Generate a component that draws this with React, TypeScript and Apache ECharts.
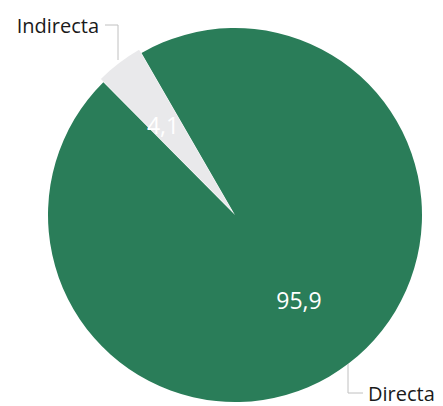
import React, { useEffect, useRef } from "react";
import * as echarts from "echarts";

const categories = ["Directa", "Indirecta"];
const values = [95.9, 4.1];
const colors = ["#2a7d59", "#e9e9eb"];

const fmt = (v: number) => v.toFixed(1).replace(".", ",");

export default function App() {
  const ref = useRef<HTMLDivElement>(null);
  useEffect(() => {
    document.body.style.margin = "0";
    const chart = echarts.init(ref.current!, undefined, { renderer: "svg" });
    const base = {
      type: "pie",
      center: [235, 215],
      radius: 187,
      startAngle: 120,
      silent: true,
    };
    const ghost = categories.map((c, i) => ({ name: c, value: values[i] }));
    chart.setOption({
      animation: false,
      series: [
        {
          ...base,
          selectedMode: "single",
          selectedOffset: 4,
          z: 1,
          data: categories.map((c, i) => ({
            name: c,
            value: values[i],
            selected: i === 1,
            itemStyle: { color: colors[i] },
          })),
          label: { show: false },
          labelLine: { show: false },
        },
        {
          ...base,
          z: 2,
          data: ghost,
          itemStyle: { color: "rgba(0,0,0,0)" },
          label: {
            show: true,
            position: "inside",
            color: "#ffffff",
            fontFamily: "Open Sans",
            fontSize: 23,
            formatter: (p: any) => fmt(p.value),
          },
          labelLayout: (p: any) =>
            p.dataIndex === 0
              ? { x: 299, y: 300, align: "center", verticalAlign: "middle" }
              : { x: 163, y: 125, align: "center", verticalAlign: "middle" },
          labelLine: { show: false },
        },
        {
          ...base,
          z: 2,
          data: ghost,
          itemStyle: { color: "rgba(0,0,0,0)" },
          label: {
            show: true,
            position: "outside",
            overflow: "none",
            color: "#1a1a1a",
            fontFamily: "Open Sans",
            fontSize: 20,
            formatter: "{b}",
          },
          labelLine: { show: true, lineStyle: { color: "#c0c0c0", width: 1 } },
          labelLayout: (p: any) =>
            p.dataIndex === 1
              ? {
                  x: 99,
                  y: 25,
                  align: "right",
                  verticalAlign: "middle",
                  labelLinePoints: [
                    [118, 60],
                    [118, 25],
                    [105, 25],
                  ],
                }
              : {
                  x: 368,
                  y: 393,
                  align: "left",
                  verticalAlign: "middle",
                  labelLinePoints: [
                    [348, 364],
                    [348, 393],
                    [363, 393],
                  ],
                },
        },
      ],
    });
    return () => chart.dispose();
  }, []);
  return <div ref={ref} style={{ width: 443, height: 406 }} />;
}
